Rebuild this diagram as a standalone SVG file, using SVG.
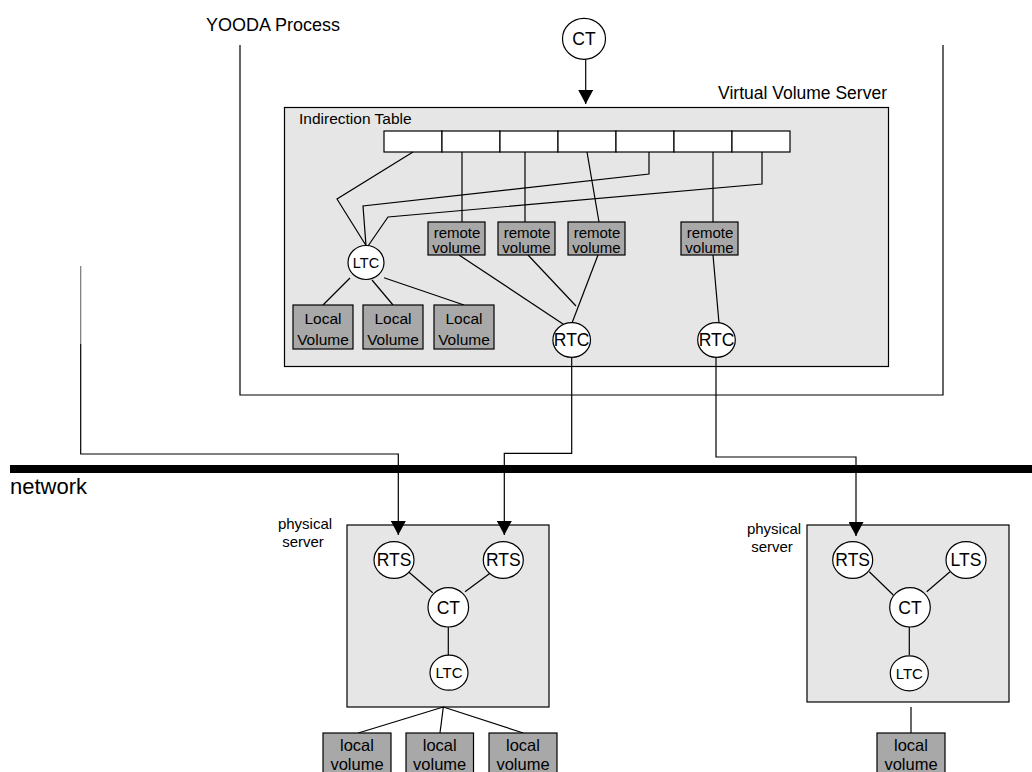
<svg xmlns="http://www.w3.org/2000/svg" width="1032" height="772" viewBox="0 0 1032 772">
<defs>
<style>
text{font-family:"Liberation Sans",Arial,sans-serif;fill:#000}
.ln{fill:none;stroke:#000;stroke-width:1.2}
.panel{fill:#e6e6e6;stroke:#000;stroke-width:1.2}
.vol{fill:#a8a8a8;stroke:#000;stroke-width:1.2}
.cell{fill:#fff;stroke:#000;stroke-width:1.2}
.node{fill:#fff;stroke:#000;stroke-width:1.2}
.c{text-anchor:middle}
.t15{font-size:15.5px}
.t17{font-size:17.5px}
.rv{font-size:15px}
.lv{font-size:16.5px}
</style>
<marker id="ah" viewBox="0 0 14 15" refX="14" refY="7.5" markerWidth="14" markerHeight="15" markerUnits="userSpaceOnUse" orient="auto">
<path d="M0,0 L14,7.5 L0,15 z" fill="#000"/>
</marker>
</defs>
<rect width="1032" height="772" fill="#fff"/>

<g id="yooda-process">
<path class="ln" d="M240,45 V395 H943 V45"/>
<text x="206" y="31" style="font-size:18px">YOODA Process</text>
</g>

<g id="network">
<rect x="10" y="465" width="1022" height="8" fill="#000"/>
<text x="10" y="494" style="font-size:22px">network</text>
</g>

<g id="vvs">
<rect class="panel" x="284.5" y="107.5" width="604" height="259"/>
<text x="887" y="99" text-anchor="end" style="font-size:17.5px">Virtual Volume Server</text>
</g>

<g id="physical-server-1">
<rect class="panel" x="347" y="525" width="202" height="182"/>
<text x="305" y="529.3" class="c" style="font-size:15px">physical</text>
<text x="303" y="546.7" class="c" style="font-size:15px">server</text>
</g>

<g id="physical-server-2">
<rect class="panel" x="807" y="525" width="202" height="177"/>
<text x="774" y="534.3" class="c" style="font-size:15px">physical</text>
<text x="772" y="551.7" class="c" style="font-size:15px">server</text>
</g>

<g id="indirection-table">
<text x="299" y="124" class="t15">Indirection Table</text>
<rect class="cell" x="384" y="131" width="58" height="21"/>
<rect class="cell" x="442" y="131" width="58" height="21"/>
<rect class="cell" x="500" y="131" width="58" height="21"/>
<rect class="cell" x="558" y="131" width="58" height="21"/>
<rect class="cell" x="616" y="131" width="58" height="21"/>
<rect class="cell" x="674" y="131" width="58" height="21"/>
<rect class="cell" x="732" y="131" width="58" height="21"/>
</g>

<g id="connectors">
<line class="ln" x1="585.7" y1="59" x2="585.7" y2="104" marker-end="url(#ah)"/>
<path class="ln" d="M413,152 L337,199 L366,245.5"/>
<path class="ln" d="M649,152 V174 L363,206 L366,245.5"/>
<path class="ln" d="M762,152 V184 L388,217 L368,246"/>
<line class="ln" x1="462" y1="152" x2="462" y2="222"/>
<line class="ln" x1="525" y1="152" x2="525" y2="222"/>
<line class="ln" x1="587" y1="152" x2="599" y2="222"/>
<line class="ln" x1="713" y1="152" x2="713" y2="222"/>
<line class="ln" x1="350" y1="278" x2="323" y2="305"/>
<line class="ln" x1="372" y1="280" x2="393" y2="305"/>
<line class="ln" x1="384" y1="277.7" x2="464" y2="305"/>
<line class="ln" x1="459" y1="255" x2="563" y2="324"/>
<line class="ln" x1="528" y1="255" x2="576" y2="306"/>
<line class="ln" x1="598" y1="255" x2="572" y2="323"/>
<line class="ln" x1="713" y1="255" x2="719" y2="323"/>
<path class="ln" d="M80.7,266 V344" style="stroke:#777"/>
<path class="ln" d="M80.7,344 V454 H398.3 V535" marker-end="url(#ah)"/>
<path class="ln" d="M571.7,357 V453.3 H504.3 V535" marker-end="url(#ah)"/>
<path class="ln" d="M716,357 V457 H856 V536" marker-end="url(#ah)"/>
<line class="ln" x1="407.3" y1="570.7" x2="432.7" y2="592.7"/>
<line class="ln" x1="490" y1="573.3" x2="465" y2="591.7"/>
<line class="ln" x1="448.3" y1="626.7" x2="448.3" y2="655"/>
<line class="ln" x1="443.3" y1="707" x2="358.3" y2="733"/>
<line class="ln" x1="443.3" y1="707" x2="440" y2="733"/>
<line class="ln" x1="443.3" y1="707" x2="523.3" y2="733"/>
<line class="ln" x1="869.3" y1="571.7" x2="893.3" y2="595"/>
<line class="ln" x1="950" y1="571.7" x2="926.7" y2="591.7"/>
<line class="ln" x1="909.3" y1="626.7" x2="909.3" y2="655"/>
<line class="ln" x1="911" y1="707" x2="911" y2="733"/>
</g>

<g id="ct-top">
<ellipse class="node" cx="584" cy="38.8" rx="21.5" ry="20.5"/>
<text x="584" y="45" class="c t17">CT</text>
</g>

<g id="ltc-vvs">
<ellipse class="node" cx="366" cy="262.5" rx="18" ry="17"/>
<text x="366" y="268" class="c" style="font-size:14.5px">LTC</text>
</g>

<g id="local-volume-1">
<rect class="vol" x="293" y="305" width="60" height="44"/>
<text x="323" y="324" class="c t15">Local</text><text x="323" y="345" class="c t15">Volume</text>
</g>
<g id="local-volume-2">
<rect class="vol" x="363" y="305" width="60" height="44"/>
<text x="393" y="324" class="c t15">Local</text><text x="393" y="345" class="c t15">Volume</text>
</g>
<g id="local-volume-3">
<rect class="vol" x="434" y="305" width="60" height="44"/>
<text x="464" y="324" class="c t15">Local</text><text x="464" y="345" class="c t15">Volume</text>
</g>

<g id="remote-volume-1">
<rect class="vol" x="428" y="222" width="57" height="33"/>
<text x="457" y="237.5" class="c rv">remote</text><text x="456.5" y="252.7" class="c rv">volume</text>
</g>
<g id="remote-volume-2">
<rect class="vol" x="498" y="222" width="57" height="33"/>
<text x="527" y="237.5" class="c rv">remote</text><text x="526.5" y="252.7" class="c rv">volume</text>
</g>
<g id="remote-volume-3">
<rect class="vol" x="568" y="222" width="57" height="33"/>
<text x="597" y="237.5" class="c rv">remote</text><text x="596.5" y="252.7" class="c rv">volume</text>
</g>
<g id="remote-volume-4">
<rect class="vol" x="681" y="222" width="57" height="33"/>
<text x="710" y="237.5" class="c rv">remote</text><text x="709.5" y="252.7" class="c rv">volume</text>
</g>

<g id="rtc-1">
<ellipse class="node" cx="571.7" cy="340" rx="18.8" ry="17.3"/>
<text x="571.7" y="346" class="c t17">RTC</text>
</g>
<g id="rtc-2">
<ellipse class="node" cx="716.5" cy="340" rx="18.8" ry="17.3"/>
<text x="716.5" y="346" class="c t17">RTC</text>
</g>

<g id="rts-1a">
<ellipse class="node" cx="394" cy="560" rx="20" ry="18.3"/>
<text x="394" y="566" class="c t17">RTS</text>
</g>
<g id="rts-1b">
<ellipse class="node" cx="503.3" cy="560" rx="20" ry="18.3"/>
<text x="503.3" y="566" class="c t17">RTS</text>
</g>
<g id="ct-1">
<ellipse class="node" cx="448.3" cy="607.3" rx="20.3" ry="19.7"/>
<text x="448.3" y="613.5" class="c t17">CT</text>
</g>
<g id="ltc-1">
<ellipse class="node" cx="449" cy="672.7" rx="19" ry="17.5"/>
<text x="449" y="678" class="c" style="font-size:15px">LTC</text>
</g>

<g id="rts-2">
<ellipse class="node" cx="852.7" cy="560" rx="20" ry="18.3"/>
<text x="852.7" y="566" class="c t17">RTS</text>
</g>
<g id="lts-2">
<ellipse class="node" cx="966" cy="560" rx="20" ry="18.3"/>
<text x="966" y="566" class="c t17">LTS</text>
</g>
<g id="ct-2">
<ellipse class="node" cx="910" cy="607.3" rx="20.3" ry="19.7"/>
<text x="910" y="613.5" class="c t17">CT</text>
</g>
<g id="ltc-2">
<ellipse class="node" cx="909.3" cy="673.3" rx="19" ry="17.5"/>
<text x="909.3" y="678.6" class="c" style="font-size:15px">LTC</text>
</g>

<g id="local-volume-p1a">
<rect class="vol" x="323" y="733" width="68" height="50"/>
<text x="357" y="751" class="c lv">local</text><text x="357" y="769.5" class="c lv">volume</text>
</g>
<g id="local-volume-p1b">
<rect class="vol" x="406" y="733" width="67.5" height="50"/>
<text x="439.7" y="751" class="c lv">local</text><text x="439.7" y="769.5" class="c lv">volume</text>
</g>
<g id="local-volume-p1c">
<rect class="vol" x="489" y="733" width="68" height="50"/>
<text x="523" y="751" class="c lv">local</text><text x="523" y="769.5" class="c lv">volume</text>
</g>
<g id="local-volume-p2">
<rect class="vol" x="877" y="733" width="68" height="50"/>
<text x="911" y="751" class="c lv">local</text><text x="911" y="769.5" class="c lv">volume</text>
</g>
</svg>
